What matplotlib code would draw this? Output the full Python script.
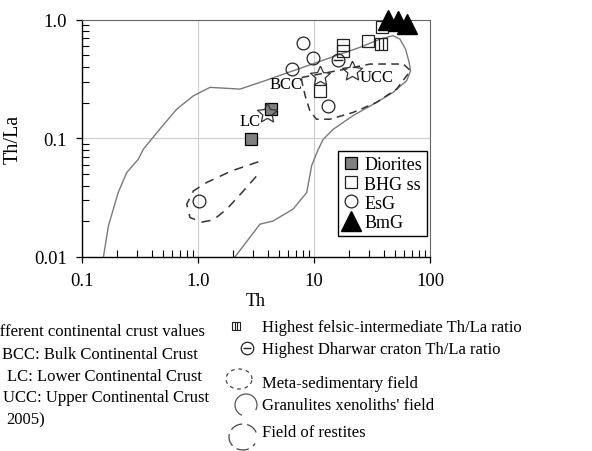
import numpy as np
import matplotlib.pyplot as plt
from matplotlib.path import Path

plt.rcParams['font.family'] = ['Liberation Serif', 'DejaVu Serif']

# --- sample data (Th in ppm, Th/La ratio) ---
dio_th = [2.86, 4.23]
dio_ratio = [0.098, 0.176]

bhg_th = [38.3, 29.4, 17.9, 17.9, 11.3]
bhg_ratio = [0.86, 0.665, 0.611, 0.54, 0.252]
felsic_th = [37.8]          # highest felsic-intermediate Th/La
felsic_ratio = [0.624]

esg_th = [8.09, 9.86, 6.43, 13.3, 1.03]
esg_ratio = [0.636, 0.472, 0.384, 0.188, 0.0297]
dharwar_th = [16.2]         # highest Dharwar craton Th/La
dharwar_ratio = [0.459]

bmg_th = [43.7, 53.3, 63.0]
bmg_ratio = [1.0, 0.97, 0.92]

crust_names = ['LC', 'BCC', 'UCC']
crust_th = [3.96, 11.3, 21.1]
crust_ratio = [0.165, 0.337, 0.371]

# --- field outlines ---
gran_th = [0.153, 0.169, 0.205, 0.243, 0.306, 0.338, 0.47, 0.655, 0.91, 1.27,
           1.89, 2.3, 3.42, 6.6, 12.8, 24.9, 37.2, 48.0, 55.0, 61.5, 66.1,
           68.0, 62.9, 48.0, 34.6, 21.6, 14.6, 12.0, 10.9, 9.55, 8.65, 6.59,
           4.43, 3.42, 2.08]
gran_ratio = [0.01, 0.0183, 0.0349, 0.0515, 0.0668, 0.081, 0.12, 0.176, 0.228,
              0.269, 0.263, 0.26, 0.296, 0.371, 0.466, 0.585, 0.687, 0.733,
              0.687, 0.566, 0.437, 0.371, 0.306, 0.244, 0.201, 0.155, 0.119,
              0.098, 0.081, 0.059, 0.0349, 0.0253, 0.0201, 0.0189, 0.01]

meta_th = [7.83, 15.7, 30.4, 58.9, 68.0, 62.9, 51.5, 34.6, 21.6, 13.7, 10.5,
           9.2, 8.4, 7.83, 7.83]
meta_ratio = [0.326, 0.371, 0.423, 0.423, 0.371, 0.337, 0.26, 0.201, 0.165,
              0.145, 0.145, 0.171, 0.228, 0.306, 0.326]

rest_th = [3.31, 1.95, 1.19, 0.912, 0.80, 0.853, 1.08, 1.35, 1.77, 2.46, 3.21]
rest_ratio = [0.0634, 0.0532, 0.0425, 0.036, 0.0279, 0.0215, 0.0197, 0.0205,
              0.0253, 0.036, 0.0483]

# markers
ang = np.linspace(np.pi / 2, np.pi / 2 + 2 * np.pi, 11)
rad = np.where(np.arange(11) % 2 == 0, 1.0, 0.47)
star = Path(np.column_stack([rad * np.cos(ang), rad * np.sin(ang)]))

sq_bar = Path([(-1, -1), (1, -1), (1, 1), (-1, 1), (-1, -1),
               (-0.3, -1), (-0.3, 1), (0.3, -1), (0.3, 1)],
              [Path.MOVETO, Path.LINETO, Path.LINETO, Path.LINETO, Path.CLOSEPOLY,
               Path.MOVETO, Path.LINETO, Path.MOVETO, Path.LINETO])

fig = plt.figure(figsize=(5.92, 4.52), dpi=100)
ax = fig.add_axes([82 / 592, 194 / 452, 348 / 592, 237.3 / 452])

ax.set_xscale('log')
ax.set_yscale('log')
ax.set_xlim(0.1, 100)
ax.set_ylim(0.01, 1.0)

ax.plot(gran_th, gran_ratio, color='#7a7a7a', lw=1.0, zorder=2)
ax.plot(meta_th, meta_ratio, color='#333333', lw=1.1, dashes=(5, 3.5), zorder=2)
ax.plot(rest_th, rest_ratio, color='#333333', lw=1.1, dashes=(6, 4.5), zorder=2)

ms = 9.2
ax.plot(dio_th, dio_ratio, 's', ms=ms, mfc='#808080', mec='black', mew=0.9,
        label='Diorites', zorder=4)
ax.plot(bhg_th, bhg_ratio, 's', ms=ms, mfc='none', mec='#222222', mew=0.9,
        label='BHG ss', zorder=4)
ax.plot(felsic_th, felsic_ratio, ls='none', marker=sq_bar, ms=ms, mfc='none',
        mec='#222222', mew=0.9, zorder=4)
ax.plot(esg_th, esg_ratio, 'o', ms=ms, mfc='none', mec='#222222', mew=0.9,
        label='EsG', zorder=4)
ax.plot(dharwar_th, dharwar_ratio, 'o', ms=ms, mfc='none', mec='#222222', mew=0.9,
        zorder=4)
ax.plot(dharwar_th, dharwar_ratio, '_', ms=6.5, mec='#222222', mew=1.0, zorder=4)
ax.plot(bmg_th, bmg_ratio, '^', ms=14, color='black', label='BmG', zorder=5,
        clip_on=False)
ax.plot(crust_th, crust_ratio, ls='none', marker=star, ms=15, mfc='none',
        mec='#333333', mew=0.9, zorder=4)

offsets = {'LC': (-5, -6, 'right'), 'BCC': (-13, -6, 'right'), 'UCC': (6, -4.5, 'left')}
for name, x, y in zip(crust_names, crust_th, crust_ratio):
    dx, dy, ha = offsets[name]
    ax.annotate(name, (x, y), xytext=(dx, dy), textcoords='offset points',
                ha=ha, va='center', fontsize=12)

ax.set_xticks([0.1, 1, 10, 100], ['0.1', '1.0', '10', '100'])
ax.set_yticks([0.01, 0.1, 1.0], ['0.01', '0.1', '1.0'])
ax.tick_params(which='major', direction='out', length=4, width=0.9,
               labelsize=13.5, pad=7)
ax.tick_params(which='minor', direction='in', length=5, width=0.8)
ax.grid(True, which='major', color='#cccccc', lw=0.8)
ax.set_axisbelow(True)
for side in ['top', 'right']:
    ax.spines[side].set_color('#666666')
for side in ['left', 'bottom']:
    ax.spines[side].set_color('black')
    ax.spines[side].set_linewidth(1.0)

ax.set_xlabel('Th', fontsize=13, labelpad=2)
ax.set_ylabel('Th/La', fontsize=14.5, labelpad=8)

leg = ax.legend(loc='upper right', bbox_to_anchor=(0.992, 0.447), fontsize=13,
                frameon=True, fancybox=False, edgecolor='black', framealpha=1,
                handlelength=0.9, handletextpad=0.25, labelspacing=0.12,
                borderpad=0.3, borderaxespad=0)
leg.get_frame().set_linewidth(1.0)

# --- notes under the chart, drawn in pixel coordinates ---
lax = fig.add_axes([0, 0, 1, 1])
lax.set_xlim(0, 592)
lax.set_ylim(452, 0)
lax.axis('off')

left_notes = [('Different continental crust values', -17, 332),
              ('BCC: Bulk Continental Crust', 2, 355),
              ('LC: Lower Continental Crust', 7, 377),
              ('UCC: Upper Continental Crust', 3, 398),
              ('2005)', 6, 420)]
for txt, x, y in left_notes:
    lax.text(x, y, txt, fontsize=12, va='center', ha='left')

right_notes = [("Highest felsic-intermediate Th/La ratio", 328),
               ("Highest Dharwar craton Th/La ratio", 350),
               ("Meta-sedimentary field", 384),
               ("Granulites xenoliths' field", 406),
               ("Field of restites", 433)]
for txt, y in right_notes:
    lax.text(262, y, txt, fontsize=12, va='center', ha='left')

lax.plot([236], [327], ls='none', marker=sq_bar, ms=5.5, mfc='none', mec='#222222', mew=0.8)
lax.plot([247], [349], 'o', ms=9, mfc='none', mec='#222222', mew=0.9)
lax.plot([247], [349], '_', ms=6, mec='#222222', mew=1.0)

t = np.linspace(0, 2 * np.pi, 60)
lax.plot(239 + 13 * np.cos(t), 380 - 10 * np.sin(t), color='#444444', lw=0.9, dashes=(3, 3))
t = np.radians(np.linspace(-25, 245, 50))
lax.plot(246 + 11 * np.cos(t), 406 - 11 * np.sin(t), color='#555555', lw=0.9)
t = np.radians(np.linspace(20, 330, 50))
lax.plot(243 + 14 * np.cos(t), 438 - 13 * np.sin(t), color='#444444', lw=0.9, dashes=(10, 4))

fig.savefig('out.png', dpi=100)
